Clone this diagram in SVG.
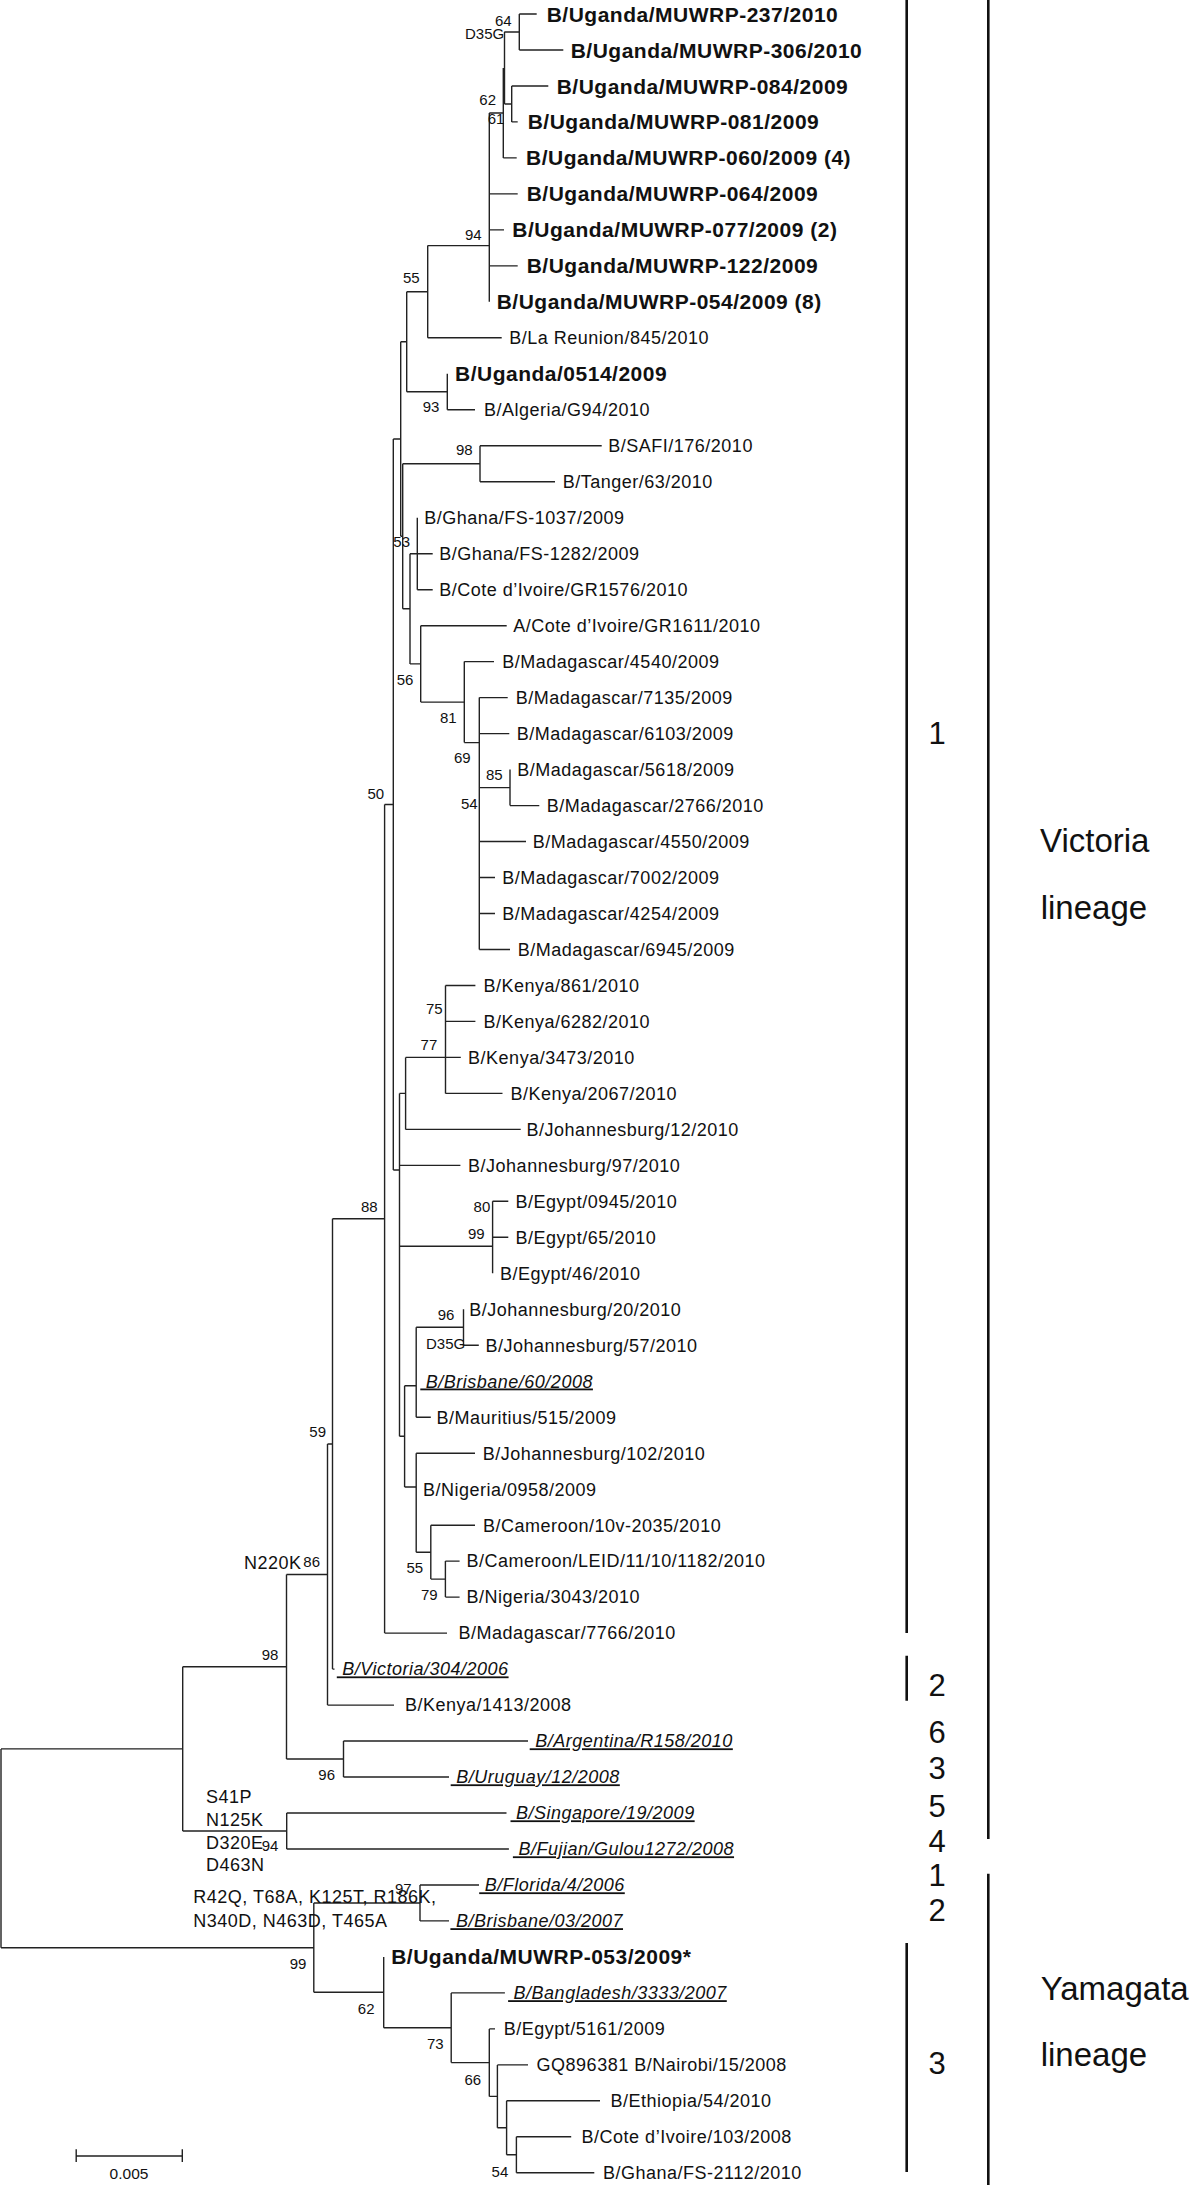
<svg xmlns="http://www.w3.org/2000/svg" width="1200" height="2185" viewBox="0 0 1200 2185">
<style>
text{font-family:"Liberation Sans",Arial,Helvetica,sans-serif;fill:#111}
.t{font-size:18px;letter-spacing:0.5px}
.b{font-size:21px;font-weight:bold;letter-spacing:0.5px}
.iu{font-style:italic;text-decoration:underline}
.bs{font-size:15px}
.big{font-size:31px}
.lin{font-size:33px}
.tree{fill:none;stroke:#222;stroke-width:1.4}
.brk{fill:none;stroke:#111;stroke-width:2.6}
</style>
<rect width="1200" height="2185" fill="#fff"/>
<g id="connectors">
<path class="tree" d="M519.3 14V50M504.3 32H519.3M519.3 14H536.7M519.3 50H563.3M504.5 32V104M504.5 104H511.7M511.7 86V121.9M511.7 86H548.3M511.7 121.9H517.7M503.3 68V157.9M503.3 157.9H516.7M489.3 113H503.3M489.3 113V301.8M489.3 193.9H517.7M489.3 229.9H504M489.3 265.9H517.7M427.7 245.6H489.3M427.7 245.6V337.8M427.7 337.8H501.7M406.7 291.7H427.7M406.7 291.7V391.8M406.7 391.8H447.3M447.3 373.8V409.8M447.3 409.8H475M400.7 341.7H406.7M400.7 341.7V536.3M400.7 536.3H402.7M402.7 463.8V608.8M402.7 463.8H480M480 445.8V481.7M480 445.8H601.7M480 481.7H555M402.7 608.8H410M410 553.7V663.9M410 553.7H432.7M417.3 517.7V589.7M417.3 589.7H432.7M410 663.9H420.7M420.7 625.7V702.1M420.7 625.7H506.7M420.7 702.1H464.3M464.3 661.6V742.6M464.3 661.6H494M464.3 742.6H479.3M479.3 697.6V949.5M479.3 697.6H507.7M479.3 733.6H509.3M479.3 787.6H510M510 769.6V805.6M510 805.6H539.3M479.3 841.5H526M479.3 877.5H495M479.3 913.5H495M479.3 949.5H510M393.3 439H400.7M393.3 439V1170M384.6 804.5H393.3M384.6 804.5V1633.1M384.6 1633.1H447M332.5 1218.8H384.6"/>
<path class="tree" d="M399.5 1093.4V1436.3M393.3 1170H399.5M399.5 1093.4H405.6M405.6 1057.4V1129.4M405.6 1057.4H460.8M405.6 1129.4H520.7M445.5 985.5V1093.4M445.5 985.5H475.4M445.5 1021.4H475.4M445.5 1093.4H502.5M399.5 1165.4H460.4M399.5 1246.3H492.6M492.6 1201.3V1273.3M492.6 1201.3H508.3M492.6 1237.3H508.3M399.5 1436.3H404.6M404.6 1385.7V1487M404.6 1385.7H416.2M416.2 1327.3V1417.2M416.2 1327.3H463.5M463.5 1309.3V1345.3M463.5 1345.3H478.8M416.2 1417.2H430.8M404.6 1487H416.2M416.2 1453.2V1552.2M416.2 1453.2H475M416.2 1552.2H430.8M430.8 1525.2V1579.1M430.8 1525.2H475M430.8 1579.1H445.4M445.4 1561.1V1597.1M445.4 1561.1H459.6M445.4 1597.1H459.6"/>
<path class="tree" d="M332.5 1218.8V1669.1M332.5 1669.1H334.5M327.5 1444H332.5M327.5 1444V1705.1M327.5 1705.1H394M286.5 1574.5H327.5M286.5 1574.5V1759M286.5 1759H343.5M343.5 1741V1777M343.5 1741H528M343.5 1777H449M182.7 1666.8H286.5M182.7 1666.8V1831M182.7 1831H286.7M286.7 1813V1849M286.7 1813H506.5M286.7 1849H508.9M1 1748.9H182.7M1 1748.9V1947.7M1 1947.7H313.8M313.8 1903V1992.3M313.8 1903H420M420 1885V1920.9M420 1885H479M420 1920.9H449M313.8 1992.3H383.7M383.7 1956.9V2027.8M383.7 2027.8H451.2M451.2 1992.9V2062.6M451.2 1992.9H504.9M451.2 2062.6H489.3M489.3 2028.9V2096.4M489.3 2028.9H495M489.3 2096.4H497.4M497.4 2064.9V2127.8M497.4 2064.9H528M497.4 2127.8H506.6M506.6 2100.8V2154.8M506.6 2100.8H600M506.6 2154.8H516.4M516.4 2136.8V2172.8M516.4 2136.8H571.2M516.4 2172.8H594.3"/>
</g>
<g id="leaves">
<g id="n0"><text class="b" x="546.7" y="21.5">B/Uganda/MUWRP-237/2010</text></g>
<g id="n1"><text class="b" x="570.7" y="57.5">B/Uganda/MUWRP-306/2010</text></g>
<g id="n2"><text class="b" x="556.7" y="93.5">B/Uganda/MUWRP-084/2009</text></g>
<g id="n3"><text class="b" x="527.7" y="129.4">B/Uganda/MUWRP-081/2009</text></g>
<g id="n4"><text class="b" x="526" y="165.4">B/Uganda/MUWRP-060/2009 (4)</text></g>
<g id="n5"><text class="b" x="526.7" y="201.4">B/Uganda/MUWRP-064/2009</text></g>
<g id="n6"><text class="b" x="512.3" y="237.4">B/Uganda/MUWRP-077/2009 (2)</text></g>
<g id="n7"><text class="b" x="526.7" y="273.4">B/Uganda/MUWRP-122/2009</text></g>
<g id="n8"><text class="b" x="496.7" y="309.3">B/Uganda/MUWRP-054/2009 (8)</text></g>
<g id="n9"><text class="t" x="509.3" y="344.1">B/La Reunion/845/2010</text></g>
<g id="n10"><text class="b" x="455" y="381.3">B/Uganda/0514/2009</text></g>
<g id="n11"><text class="t" x="484" y="416.1">B/Algeria/G94/2010</text></g>
<g id="n12"><text class="t" x="608.3" y="452.1">B/SAFI/176/2010</text></g>
<g id="n13"><text class="t" x="562.7" y="488">B/Tanger/63/2010</text></g>
<g id="n14"><text class="t" x="424.3" y="524">B/Ghana/FS-1037/2009</text></g>
<g id="n15"><text class="t" x="439.3" y="560">B/Ghana/FS-1282/2009</text></g>
<g id="n16"><text class="t" x="439.3" y="596">B/Cote d’Ivoire/GR1576/2010</text></g>
<g id="n17"><text class="t" x="513.3" y="632">A/Cote d’Ivoire/GR1611/2010</text></g>
<g id="n18"><text class="t" x="502.3" y="667.9">B/Madagascar/4540/2009</text></g>
<g id="n19"><text class="t" x="515.7" y="703.9">B/Madagascar/7135/2009</text></g>
<g id="n20"><text class="t" x="516.7" y="739.9">B/Madagascar/6103/2009</text></g>
<g id="n21"><text class="t" x="517.3" y="775.9">B/Madagascar/5618/2009</text></g>
<g id="n22"><text class="t" x="546.7" y="811.9">B/Madagascar/2766/2010</text></g>
<g id="n23"><text class="t" x="532.7" y="847.8">B/Madagascar/4550/2009</text></g>
<g id="n24"><text class="t" x="502.3" y="883.8">B/Madagascar/7002/2009</text></g>
<g id="n25"><text class="t" x="502.3" y="919.8">B/Madagascar/4254/2009</text></g>
<g id="n26"><text class="t" x="517.7" y="955.8">B/Madagascar/6945/2009</text></g>
<g id="n27"><text class="t" x="483.5" y="991.8">B/Kenya/861/2010</text></g>
<g id="n28"><text class="t" x="483.5" y="1027.7">B/Kenya/6282/2010</text></g>
<g id="n29"><text class="t" x="468.1" y="1063.7">B/Kenya/3473/2010</text></g>
<g id="n30"><text class="t" x="510.5" y="1099.7">B/Kenya/2067/2010</text></g>
<g id="n31"><text class="t" x="526.6" y="1135.7">B/Johannesburg/12/2010</text></g>
<g id="n32"><text class="t" x="468.1" y="1171.7">B/Johannesburg/97/2010</text></g>
<g id="n33"><text class="t" x="515.6" y="1207.6">B/Egypt/0945/2010</text></g>
<g id="n34"><text class="t" x="515.6" y="1243.6">B/Egypt/65/2010</text></g>
<g id="n35"><text class="t" x="499.9" y="1279.6">B/Egypt/46/2010</text></g>
<g id="n36"><text class="t" x="469.2" y="1315.6">B/Johannesburg/20/2010</text></g>
<g id="n37"><text class="t" x="485.4" y="1351.6">B/Johannesburg/57/2010</text></g>
<g id="n38"><text class="t iu" xml:space="preserve" x="420.3" y="1387.5"> B/Brisbane/60/2008</text></g>
<g id="n39"><text class="t" x="436.5" y="1423.5">B/Mauritius/515/2009</text></g>
<g id="n40"><text class="t" x="482.7" y="1459.5">B/Johannesburg/102/2010</text></g>
<g id="n41"><text class="t" x="423" y="1495.5">B/Nigeria/0958/2009</text></g>
<g id="n42"><text class="t" x="483" y="1531.5">B/Cameroon/10v-2035/2010</text></g>
<g id="n43"><text class="t" x="466.5" y="1567.4">B/Cameroon/LEID/11/10/1182/2010</text></g>
<g id="n44"><text class="t" x="466.5" y="1603.4">B/Nigeria/3043/2010</text></g>
<g id="n45"><text class="t" x="458.6" y="1639.4">B/Madagascar/7766/2010</text></g>
<g id="n46"><text class="t iu" xml:space="preserve" x="336.8" y="1675.4"> B/Victoria/304/2006</text></g>
<g id="n47"><text class="t" x="405" y="1711.4">B/Kenya/1413/2008</text></g>
<g id="n48"><text class="t iu" xml:space="preserve" x="529.7" y="1747.3"> B/Argentina/R158/2010</text></g>
<g id="n49"><text class="t iu" xml:space="preserve" x="450.7" y="1783.3"> B/Uruguay/12/2008</text></g>
<g id="n50"><text class="t iu" xml:space="preserve" x="510.5" y="1819.3"> B/Singapore/19/2009</text></g>
<g id="n51"><text class="t iu" xml:space="preserve" x="512.9" y="1855.3"> B/Fujian/Gulou1272/2008</text></g>
<g id="n52"><text class="t iu" xml:space="preserve" x="479.2" y="1891.3"> B/Florida/4/2006</text></g>
<g id="n53"><text class="t iu" xml:space="preserve" x="450.4" y="1927.2"> B/Brisbane/03/2007</text></g>
<g id="n54"><text class="b" x="391.2" y="1964.4">B/Uganda/MUWRP-053/2009*</text></g>
<g id="n55"><text class="t iu" xml:space="preserve" x="508.1" y="1999.2"> B/Bangladesh/3333/2007</text></g>
<g id="n56"><text class="t" x="503.7" y="2035.2">B/Egypt/5161/2009</text></g>
<g id="n57"><text class="t" x="536.6" y="2071.2">GQ896381 B/Nairobi/15/2008</text></g>
<g id="n58"><text class="t" x="610.5" y="2107.1">B/Ethiopia/54/2010</text></g>
<g id="n59"><text class="t" x="581.6" y="2143.1">B/Cote d’Ivoire/103/2008</text></g>
<g id="n60"><text class="t" x="603" y="2179.1">B/Ghana/FS-2112/2010</text></g>
</g>
<g id="support">
<text class="bs" x="495" y="25.5">64</text>
<text class="bs" x="465" y="38.5">D35G</text>
<text class="bs" x="479.3" y="105.3">62</text>
<text class="bs" x="487.7" y="123.6">61</text>
<text class="bs" x="465" y="240.3">94</text>
<text class="bs" x="403" y="283.3">55</text>
<text class="bs" x="422.7" y="412.3">93</text>
<text class="bs" x="456" y="455.3">98</text>
<text class="bs" x="393.3" y="547">53</text>
<text class="bs" x="396.7" y="684.6">56</text>
<text class="bs" x="440" y="723">81</text>
<text class="bs" x="454" y="763">69</text>
<text class="bs" x="486" y="780.3">85</text>
<text class="bs" x="461" y="808.6">54</text>
<text class="bs" x="367.5" y="798.5">50</text>
<text class="bs" x="426" y="1014.3">75</text>
<text class="bs" x="420.6" y="1050.3">77</text>
<text class="bs" x="361" y="1212">88</text>
<text class="bs" x="473.6" y="1212">80</text>
<text class="bs" x="468" y="1239.3">99</text>
<text class="bs" x="437.7" y="1319.6">96</text>
<text class="bs" x="426" y="1348.6">D35G</text>
<text class="bs" x="309.3" y="1437">59</text>
<text class="bs" x="406.5" y="1572.6">55</text>
<text class="bs" x="421" y="1600.3">79</text>
<text class="bs" x="303.3" y="1567.3">86</text>
<text class="bs" x="261.7" y="1659.8">98</text>
<text class="bs" x="318.3" y="1780.3">96</text>
<text class="bs" x="261.7" y="1851.3">94</text>
<text class="bs" x="395" y="1893.6">97</text>
<text class="bs" x="289.7" y="1968.6">99</text>
<text class="bs" x="357.8" y="2013.6">62</text>
<text class="bs" x="427" y="2048.6">73</text>
<text class="bs" x="464.5" y="2084.6">66</text>
<text class="bs" x="491.6" y="2177">54</text>
</g>
<g id="mutations">
<text class="t" x="244" y="1569.4">N220K</text>
<text class="t" x="206" y="1802.6">S41P</text>
<text class="t" x="206" y="1826">N125K</text>
<text class="t" x="206" y="1849">D320E</text>
<text class="t" x="206" y="1871">D463N</text>
<text class="t" x="193.3" y="1902.5">R42Q, T68A, K125T, R186K,</text>
<text class="t" x="193.3" y="1926.5">N340D, N463D, T465A</text>
</g>
<g id="scale">
<path class="tree" d="M76.2 2156H182.3M76.2 2149.3V2162M182.3 2149.3V2162"/>
<text x="109.6" y="2179" style="font-size:15.5px">0.005</text>
</g>
<g id="clades">
<path class="brk" d="M906.7 0V1633M906.7 1655.7V1700.7M906.7 1943V2172M988.3 0V1839M988.3 1873.7V2185"/>
<text class="big" x="937" y="744" text-anchor="middle">1</text>
<text class="big" x="937" y="1696" text-anchor="middle">2</text>
<text class="big" x="937" y="1743" text-anchor="middle">6</text>
<text class="big" x="937" y="1779" text-anchor="middle">3</text>
<text class="big" x="937" y="1817" text-anchor="middle">5</text>
<text class="big" x="937" y="1851.5" text-anchor="middle">4</text>
<text class="big" x="937" y="1886" text-anchor="middle">1</text>
<text class="big" x="937" y="1921" text-anchor="middle">2</text>
<text class="big" x="937" y="2074" text-anchor="middle">3</text>
<text class="lin" x="1040" y="852">Victoria</text>
<text class="lin" x="1040.7" y="919">lineage</text>
<text class="lin" x="1040.7" y="2000">Yamagata</text>
<text class="lin" x="1040.7" y="2065.5">lineage</text>
</g>
</svg>
